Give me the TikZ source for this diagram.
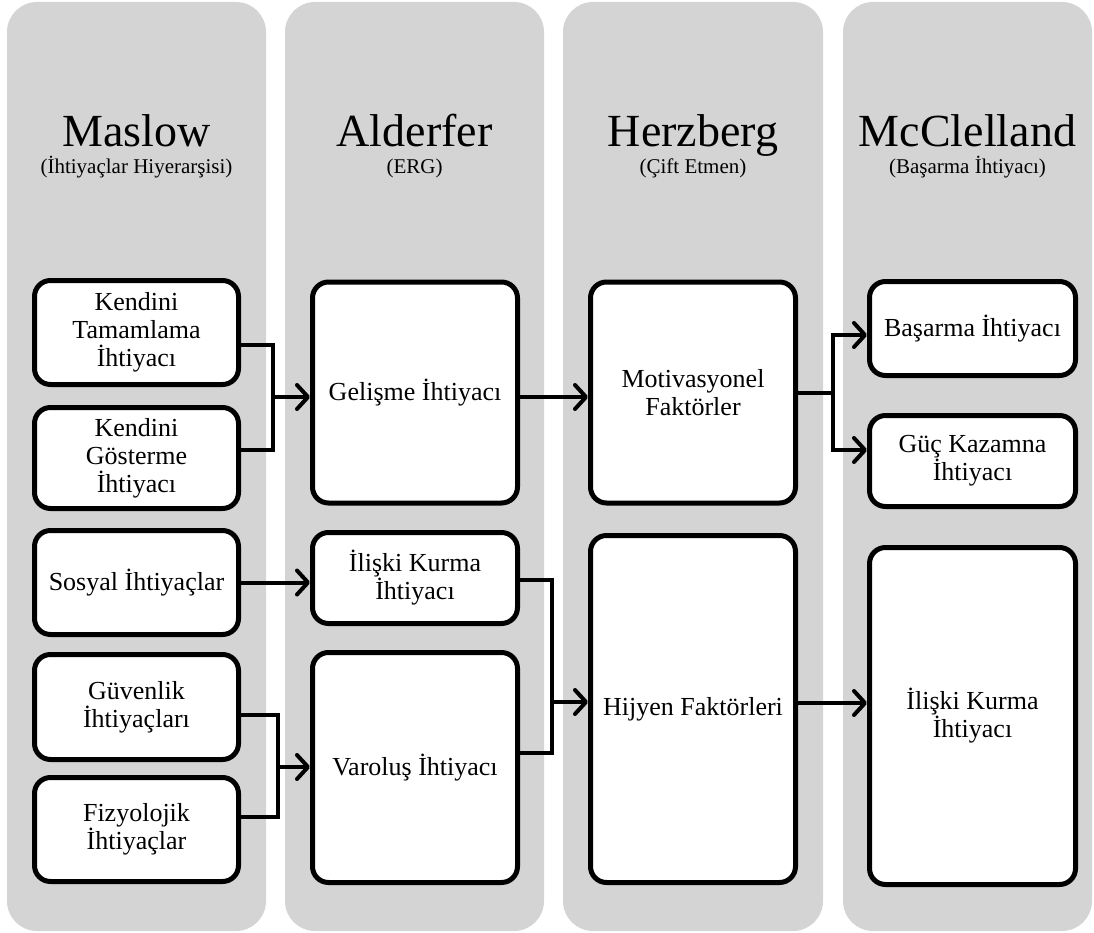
\documentclass[tikz,border=0pt]{standalone}
\usepackage{fontspec}
\setmainfont{Liberation Serif}
\usetikzlibrary{arrows.meta,calc}
\definecolor{colfill}{RGB}{212,212,212}
\begin{document}
\begin{tikzpicture}[x=1pt,y=-1pt,
  column/.style={fill=colfill, rounded corners=30pt},
  box/.style={draw=black, line width=5pt, fill=white, rounded corners=16pt,
    align=center, inner sep=0pt, font=\fontsize{26}{28}\selectfont},
  link/.style={line width=4pt},
  arr/.style={link, -{Straight Barb[length=11pt,width=24pt,round]}},
  title/.style={anchor=base, inner sep=0pt, font=\fontsize{46}{50}\selectfont},
  subtitle/.style={anchor=base, inner sep=0pt, font=\fontsize{21}{24}\selectfont}]
\useasboundingbox (0,0) rectangle (1094,933);

% grey columns
\fill[column] (7,2) rectangle (266,931);
\fill[column] (285,2) rectangle (544,931);
\fill[column] (563,2) rectangle (823,931);
\fill[column] (843,2) rectangle (1092,931);

% column headings
\node[title] (t1) at (136.5,147) {Maslow};
\node[subtitle] (s1) at (136.5,174) {(İhtiyaçlar Hiyerarşisi)};
\node[title] (t2) at (414.5,147) {Alderfer};
\node[subtitle] (s2) at (414.5,174) {(ERG)};
\node[title] (t3) at (693,147) {Herzberg};
\node[subtitle] (s3) at (693,174) {(Çift Etmen)};
\node[title] (t4) at (967.5,147) {McClelland};
\node[subtitle] (s4) at (967.5,174) {(Başarma İhtiyacı)};

% Maslow
\node[box, minimum width=204pt, minimum height=104pt] (m1) at (136.5,332.5) {Kendini\\Tamamlama\\İhtiyacı};
\node[box, minimum width=204pt, minimum height=101pt] (m2) at (136.5,458) {Kendini\\Gösterme\\İhtiyacı};
\node[box, minimum width=204pt, minimum height=104pt] (m3) at (136.5,582.5) {Sosyal İhtiyaçlar};
\node[box, minimum width=204pt, minimum height=105pt] (m4) at (136.5,707) {Güvenlik\\İhtiyaçları};
\node[box, minimum width=204pt, minimum height=104pt] (m5) at (136.5,829.5) {Fizyolojik\\İhtiyaçlar};

% Alderfer
\node[box, minimum width=205pt, minimum height=221pt] (a1) at (415,392.5) {Gelişme İhtiyacı};
\node[box, minimum width=205pt, minimum height=91pt] (a2) at (415,578) {İlişki Kurma\\İhtiyacı};
\node[box, minimum width=205pt, minimum height=230pt] (a3) at (415,767.5) {Varoluş İhtiyacı};

% Herzberg
\node[box, minimum width=205pt, minimum height=221pt] (h1) at (693,392.5) {Motivasyonel\\Faktörler};
\node[box, minimum width=205pt, minimum height=347pt] (h2) at (693,709) {Hijyen Faktörleri};

% McClelland
\node[box, minimum width=206pt, minimum height=94pt] (c1) at (972.5,328.5) {Başarma İhtiyacı};
\node[box, minimum width=206pt, minimum height=91pt] (c2) at (972.5,461) {Güç Kazamna\\İhtiyacı};
\node[box, minimum width=206pt, minimum height=337pt] (c3) at (972.5,716) {İlişki Kurma\\İhtiyacı};

% bracket joints
\coordinate (j1) at (273,397);
\coordinate (j2) at (833,393);
\coordinate (j3) at (552,702);
\coordinate (j4) at (278,767);

% connectors
\draw[link] ($(m1.east)+(0,12.5)$) -| (j1) |- ($(m2.east)+(0,-8)$);
\draw[arr] (j1) -- (j1 -| a1.west);
\draw[arr] ($(a1.east)+(0,4.5)$) -- ($(h1.west)+(0,4.5)$);
\draw[link] ($(h1.east)+(0,0.5)$) -- (j2);
\draw[arr] (j2) |- ($(c1.west)+(0,6.5)$);
\draw[arr] (j2) |- ($(c2.west)+(0,-11)$);
\draw[arr] (m3.east) -- (m3.east -| a2.west);
\draw[link] ($(a2.east)+(0,2)$) -| (j3) |- ($(a3.east)+(0,-14.5)$);
\draw[arr] (j3) -- (j3 -| h2.west);
\draw[link] ($(m4.east)+(0,8)$) -| (j4) |- ($(m5.east)+(0,-12.5)$);
\draw[arr] (j4) -- (j4 -| a3.west);
\draw[arr] ($(h2.east)+(0,-6)$) -- ($(c3.west)+(0,-13)$);
\end{tikzpicture}
\end{document}
